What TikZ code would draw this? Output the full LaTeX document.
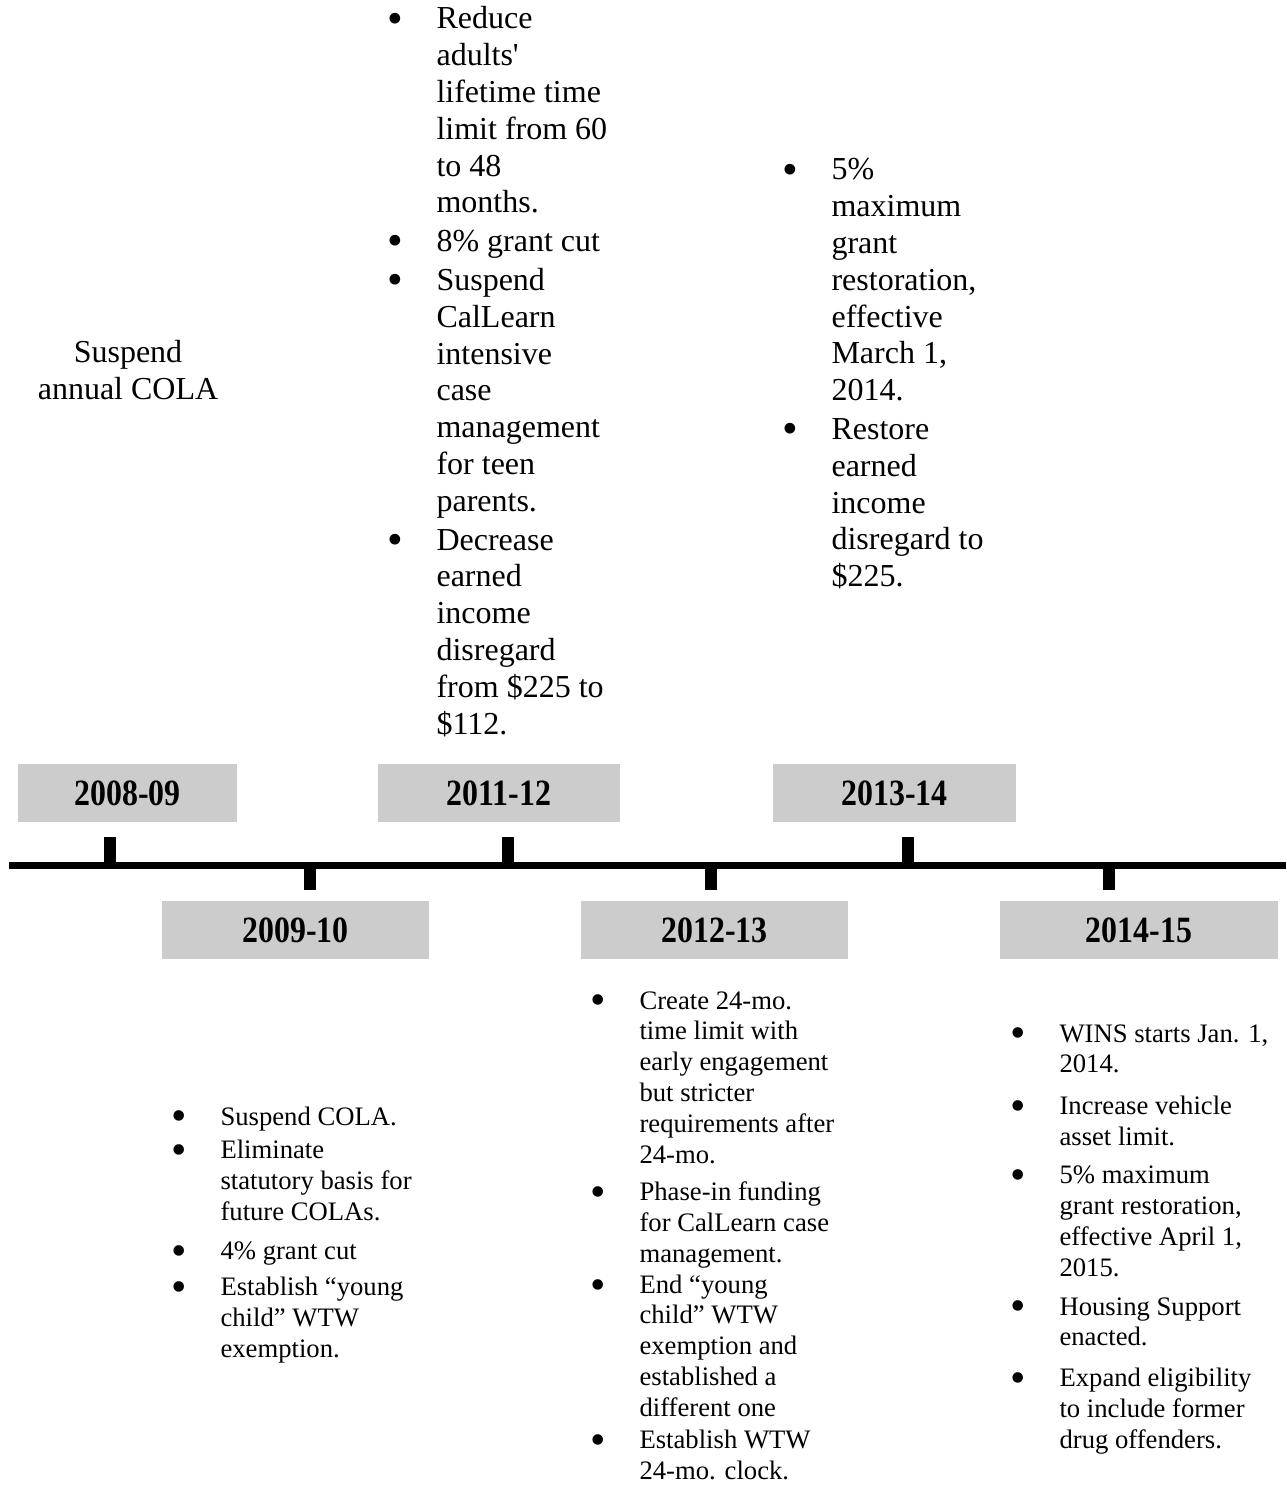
\documentclass[tikz,border=0pt]{standalone}
\usepackage{fontspec}
\setmainfont{Liberation Serif}
\newfontfamily\plainfont{Liberation Serif}
\usepackage{graphicx}
\definecolor{boxgray}{HTML}{CCCCCC}
\newcommand\bul{\llap{\makebox[15.5pt][l]{\makebox[0pt]{\smash{\raisebox{-0.13em}{\scalebox{1.4}{•}}}}}}}
\newcommand\sbul{\llap{\makebox[15.5pt][l]{\makebox[0pt]{\smash{\raisebox{-0.22em}{\scalebox{1.65}{•}}}}}}}
\newcommand\yr[1]{\scalebox{0.86}[1]{\fontsize{13.9}{16}\selectfont\bfseries #1}}
\tikzset{
  big/.style={font=\fontsize{12}{13.8}\selectfont, inner sep=0pt, anchor=base west},
  small/.style={font=\fontsize{10}{11.55}\selectfont, inner sep=0pt, anchor=base west},
  yearbox/.style={fill=boxgray, inner sep=0pt, minimum height=58*0.375pt},
  axisline/.style={line width=2.625pt},
  tickmark/.style={line width=4.5pt},
}
\begin{document}
\begin{tikzpicture}[x=0.375pt, y=-0.375pt]
\useasboundingbox (0,0) rectangle (1286,1485);

% left label
\node[font=\fontsize{12}{13.8}\selectfont, inner sep=0pt, anchor=base] (cola) at (128,363)
  {\begin{tabular}[t]{@{}c@{}}Suspend\\ annual COLA\end{tabular}};

% 2011-12 top text
\node[big] (t1112) at (436,29) {\begin{tabular}[t]{@{}l@{}}
\bul Reduce\\ adults{\plainfont\symbol{39}}\\ lifetime time\\ limit from 60\\ to 48\\ months.\\[0.75pt]
\bul 8\% grant cut\\[0.75pt]
\bul Suspend\\ CalLearn\\ intensive\\ case\\ management\\ for teen\\ parents.\\[0.75pt]
\bul Decrease\\ earned\\ income\\ disregard\\ from \$225 to\\ \$112.
\end{tabular}};

% 2013-14 top text
\node[big] (t1314) at (831,180) {\begin{tabular}[t]{@{}l@{}}
\bul 5\%\\ maximum\\ grant\\ restoration,\\ effective\\ March 1,\\ 2014.\\[0.75pt]
\bul Restore\\ earned\\ income\\ disregard to\\ \$225.
\end{tabular}};

% year boxes
\node[yearbox, minimum width=219*0.375pt] (y0809) at (127.5,793) {\yr{2008-09}};
\node[yearbox, minimum width=242*0.375pt] (y1112) at (499,793) {\yr{2011-12}};
\node[yearbox, minimum width=243*0.375pt] (y1314) at (894.5,793) {\yr{2013-14}};
\node[yearbox, minimum width=267*0.375pt] (y0910) at (295.5,930) {\yr{2009-10}};
\node[yearbox, minimum width=267*0.375pt] (y1213) at (714.5,930) {\yr{2012-13}};
\node[yearbox, minimum width=278*0.375pt] (y1415) at (1139,930) {\yr{2014-15}};

% timeline
\coordinate (L) at (9,865.5);
\coordinate (R) at (1286,865.5);
\draw[axisline] (L) -- (R);
\coordinate (k0809) at (110,865.5);
\coordinate (k1112) at (508,865.5);
\coordinate (k1314) at (908,865.5);
\coordinate (k0910) at (310,865.5);
\coordinate (k1213) at (711,865.5);
\coordinate (k1415) at (1109,865.5);
\foreach \k in {k0809,k1112,k1314}{\draw[tickmark] (\k) -- ++(0,-28.5);}
\foreach \k in {k0910,k1213,k1415}{\draw[tickmark] (\k) -- ++(0,24.5);}

% 2009-10 bottom text
\node[small] (t0910) at (220,1125) {\begin{tabular}[t]{@{}l@{}}
\sbul Suspend COLA.\\[1.1pt]
\sbul Eliminate\\ statutory basis for\\ future COLAs.\\[3pt]
\sbul 4\% grant cut\\[2.2pt]
\sbul Establish “young\\ child” WTW\\ exemption.
\end{tabular}};

% 2012-13 bottom text
\node[small] (t1213) at (639,1009) {\begin{tabular}[t]{@{}l@{}}
\sbul Create 24-mo.\\ time limit with\\ early engagement\\ but stricter\\ requirements after\\ 24-mo.\\[2.6pt]
\sbul Phase-in funding\\ for CalLearn case\\ management.\\
\sbul End “young\\ child” WTW\\ exemption and\\ established a\\ different one\\[0.4pt]
\sbul Establish WTW\\ 24-mo. clock.
\end{tabular}};

% 2014-15 bottom text
\node[small] (t1415) at (1059,1042) {\begin{tabular}[t]{@{}l@{}}
\sbul WINS starts Jan. 1,\\ 2014.\\[4pt]
\sbul Increase vehicle\\ asset limit.\\[3pt]
\sbul 5\% maximum\\ grant restoration,\\ effective April 1,\\ 2015.\\[3pt]
\sbul Housing Support\\ enacted.\\[3.75pt]
\sbul Expand eligibility\\ to include former\\ drug offenders.
\end{tabular}};
\end{tikzpicture}
\end{document}
